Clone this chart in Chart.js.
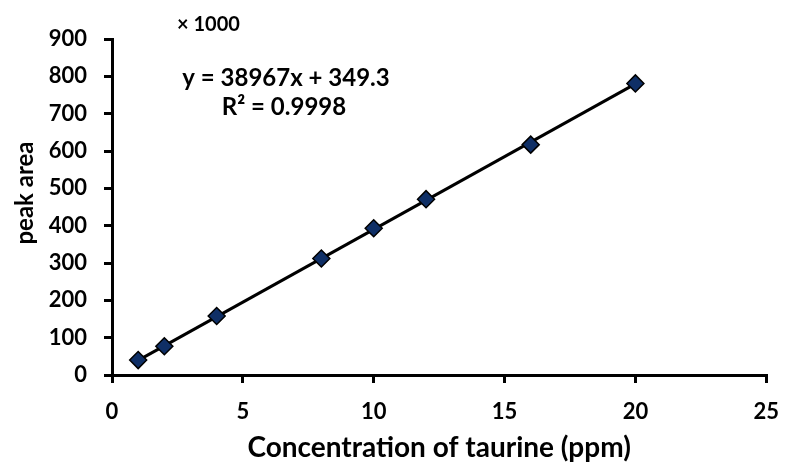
<!DOCTYPE html>
<html>
<head>
<meta charset="utf-8">
<script src="https://cdn.jsdelivr.net/npm/chart.js@4/dist/chart.umd.min.js"></script>
<style>
  html, body { margin: 0; padding: 0; background: #fff; }
  #wrap { width: 795px; height: 467px; }
</style>
</head>
<body>
<div id="wrap"><canvas id="calChart"></canvas></div>
<script>
// concentration of taurine (ppm)
const concentrations = [1, 2, 4, 8, 10, 12, 16, 20];
// peak area (x 1000)
const peakAreas = [40, 77, 158, 312, 393, 471, 617, 781];
// linear fit end points
const fitX = [1, 20];
const fitY = [39.3, 779.7];
const xTicks = [0, 5, 10, 15, 20, 25];
const yTicks = [0, 100, 200, 300, 400, 500, 600, 700, 800, 900];

const FONT = "Lato, 'Open Sans', sans-serif";

// annotation text: multiplier, fit equation and the y title (sits above centre)
const annotations = {
  id: "annotations",
  afterDraw(chart) {
    const c = chart.ctx;
    c.save();
    c.fillStyle = "#000";
    c.textBaseline = "middle";
    c.font = "bold 20px " + FONT;
    c.textAlign = "left";
    c.fillText("× 1000", 177, 25);
    c.font = "bold 24px " + FONT;
    c.textAlign = "center";
    c.fillText("y = 38967x + 349.3", 286, 78);
    c.fillText("R² = 0.9998", 284, 107);
    c.translate(25, 193);
    c.rotate(-Math.PI / 2);
    c.font = "bold 24px " + FONT;
    c.fillText("peak area", 0, 0);
    c.restore();
  }
};

const ctx = document.getElementById("calChart");
new Chart(ctx, {
  type: "scatter",
  data: {
    datasets: [
      {
        label: "fit",
        data: fitX.map((x, i) => ({ x: x, y: fitY[i] })),
        showLine: true,
        borderColor: "#000",
        borderWidth: 3,
        pointRadius: 0,
        order: 2
      },
      {
        label: "taurine",
        data: concentrations.map((x, i) => ({ x: x, y: peakAreas[i] })),
        pointStyle: "rectRot",
        pointRadius: 8.5,
        pointBackgroundColor: "#0f2f66",
        pointBorderColor: "#000",
        pointBorderWidth: 1.5,
        order: 1
      }
    ]
  },
  options: {
    responsive: true,
    maintainAspectRatio: false,
    animation: false,
    layout: { padding: { top: 39, right: 19, left: 0, bottom: 2 } },
    plugins: { legend: { display: false }, tooltip: { enabled: false } },
    scales: {
      x: {
        type: "linear",
        min: 0, max: 25,
        afterBuildTicks: (s) => { s.ticks = xTicks.map(v => ({ value: v })); },
        afterFit: (s) => { s.height = 90; },
        grid: { display: true, drawOnChartArea: false, tickLength: 8, lineWidth: 3, color: "#000" },
        border: { color: "#000", width: 3 },
        ticks: { color: "#000", padding: 16, font: { family: FONT, size: 22, weight: "bold" } },
        title: {
          display: true,
          text: "Concentration of taurine (ppm)",
          color: "#000",
          padding: { top: 0, bottom: 0 },
          font: { family: FONT, size: 28, weight: "bold" }
        }
      },
      y: {
        min: 0, max: 900,
        afterBuildTicks: (s) => { s.ticks = yTicks.map(v => ({ value: v })); },
        afterFit: (s) => { s.width = 112; },
        grid: { display: true, drawOnChartArea: false, tickLength: 8, lineWidth: 3, color: "#000" },
        border: { color: "#000", width: 3 },
        ticks: { color: "#000", padding: 17, font: { family: FONT, size: 22, weight: "bold" } },
        title: { display: false }
      }
    }
  },
  plugins: [annotations]
});
</script>
</body>
</html>
